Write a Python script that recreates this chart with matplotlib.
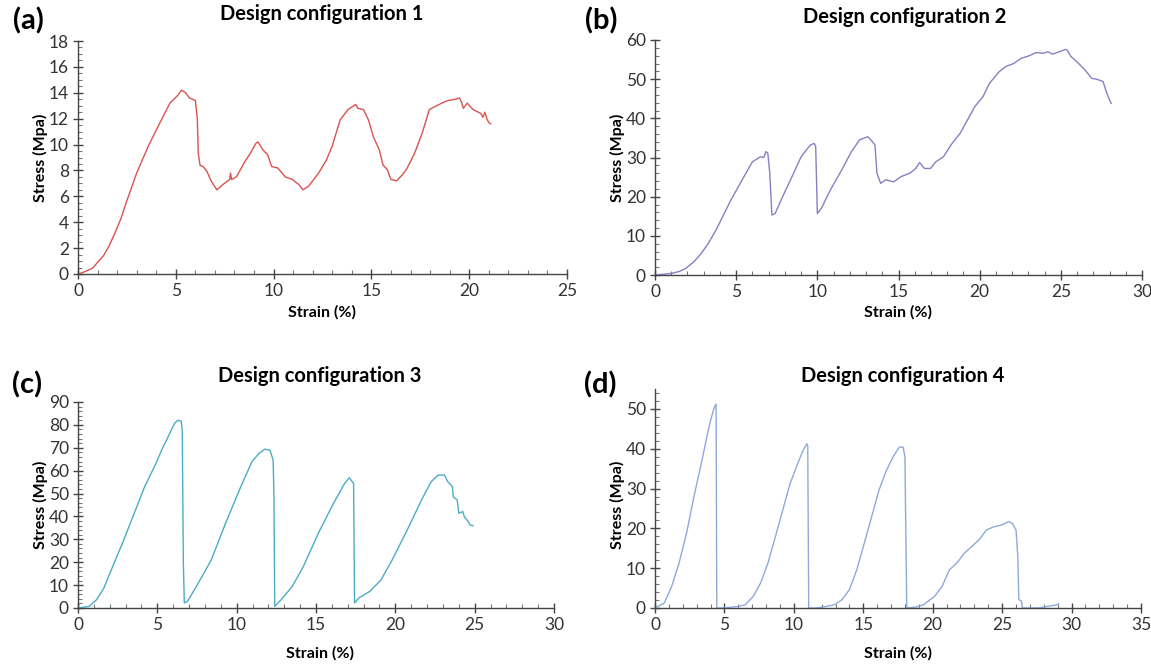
import numpy as np
import matplotlib
matplotlib.use("Agg")
import matplotlib.pyplot as plt
from matplotlib.ticker import MultipleLocator

plt.rcParams['font.family'] = ['Lato', 'DejaVu Sans']

# config 1 (strain %, stress MPa)
strain_1 = [0, 0.3, 0.75, 1.0, 1.3, 1.6, 1.9, 2.2, 2.46, 3.0, 3.6, 4.16, 4.7, 5.1, 5.29, 5.4, 5.5, 5.7, 6.0, 6.1, 6.15,
            6.24, 6.4, 6.6, 6.8, 7.1, 7.4, 7.75, 7.8, 7.85, 8.1, 8.5, 8.8, 9.1, 9.2, 9.45, 9.7, 9.9,
            10.2, 10.6, 10.96, 11.3, 11.5, 11.8, 12.3, 12.7, 13.0, 13.4, 13.8, 14.2, 14.3, 14.6,
            14.85, 15.1, 15.4, 15.6, 15.8, 16.0, 16.3, 16.6, 16.8, 17.2, 17.6, 17.96, 18.2, 18.6,
            18.9, 19.3, 19.5, 19.6, 19.7, 19.9, 20.2, 20.6, 20.7, 20.8, 20.9, 21.0, 21.1]
stress_1 = [0, 0.15, 0.45, 0.9, 1.4, 2.2, 3.2, 4.3, 5.5, 7.8, 9.9, 11.6, 13.2, 13.8, 14.2, 14.1, 14.0, 13.6, 13.4, 12.0, 9.3,
            8.4, 8.3, 7.9, 7.2, 6.5, 6.9, 7.3, 7.8, 7.3, 7.5, 8.6, 9.3, 10.1, 10.2, 9.6, 9.2, 8.3,
            8.2, 7.5, 7.3, 6.9, 6.5, 6.8, 7.8, 8.8, 9.9, 11.9, 12.7, 13.1, 12.8, 12.7,
            11.9, 10.6, 9.6, 8.4, 8.1, 7.3, 7.2, 7.7, 8.1, 9.3, 10.9, 12.7, 12.9, 13.2,
            13.4, 13.5, 13.6, 13.3, 12.8, 13.2, 12.7, 12.4, 12.1, 12.5, 12.0, 11.7, 11.6]

# config 2
strain_2 = [0, 1.0, 1.5, 1.9, 2.4, 2.85, 3.3, 3.76, 4.67, 5.6, 6.0, 6.5, 6.7, 6.83, 6.95, 7.07, 7.2, 7.4, 7.86,
            8.54, 9.0, 9.57, 9.8, 9.9, 10.0, 10.25, 10.8, 11.5, 12.1, 12.6, 13.1, 13.3, 13.55,
            13.67, 13.9, 14.2, 14.7, 15.15, 15.7, 16.06, 16.3, 16.6, 16.97, 17.3, 17.77, 18.3,
            18.8, 19.25, 19.7, 20.2, 20.6, 21.2, 21.6, 22.1, 22.55, 23.0, 23.5, 23.9, 24.2, 24.5,
            24.9, 25.3, 25.4, 25.6, 26.1, 26.5, 26.9, 27.2, 27.6, 27.8, 28.0, 28.1]
stress_2 = [0, 0.4, 0.9, 1.7, 3.4, 5.5, 8.2, 11.5, 19.1, 26.0, 28.9, 30.2, 30.0, 31.5, 31.1, 26.0, 15.3, 15.7, 20.0,
            26.0, 30.2, 33.2, 33.6, 32.8, 15.7, 17.0, 21.7, 26.8, 31.5, 34.5, 35.3, 34.5, 33.2,
            26.0, 23.4, 24.3, 23.8, 25.1, 26.0, 27.2, 28.7, 27.2, 27.2, 28.9, 30.2, 33.6,
            36.2, 39.6, 43.0, 45.5, 48.9, 51.9, 53.2, 54.0, 55.3, 55.9, 56.8, 56.6, 57.0, 56.4,
            57.0, 57.6, 57.4, 55.9, 54.0, 52.3, 50.2, 50.0, 49.4, 46.8, 44.7, 43.8]

# config 3
strain_3 = [0, 0.7, 1.17, 1.63, 2.1, 2.8, 3.5, 4.2, 4.9, 5.36, 5.6, 5.9, 6.1, 6.3, 6.5, 6.57, 6.64, 6.7,
            6.9, 7.46, 8.4, 9.3, 10.26, 10.96, 11.4, 11.77, 12.1, 12.3, 12.35, 12.4, 12.8, 13.5,
            14.2, 15.15, 16.1, 16.8, 17.1, 17.37, 17.43, 17.7, 18.4, 19.1, 19.8, 20.75, 21.7,
            22.26, 22.7, 23.1, 23.3, 23.6, 23.65, 23.9, 24.0, 24.25, 24.35, 24.6, 24.7, 24.9]
stress_3 = [0, 0.7, 3.6, 8.7, 16.7, 28.3, 40.6, 53.0, 63.0, 70.4, 73.6, 78.1, 80.8, 82.0, 81.7, 77.6, 19.6, 2.2,
            2.9, 9.4, 21.0, 37.0, 53.0, 63.9, 67.5, 69.4, 68.9, 64.6, 48.6, 0.7, 3.6, 9.4,
            18.1, 32.7, 45.7, 54.4, 56.9, 54.4, 2.2, 4.4, 7.3, 12.3, 21.0, 34.1, 47.9,
            55.2, 58.1, 58.1, 55.2, 53.0, 48.6, 47.2, 41.4, 42.1, 39.9, 37.7, 36.3, 35.9]

# config 4
strain_4 = [0, 0.67, 1.2, 1.73, 2.27, 2.8, 3.33, 3.73, 4.0, 4.27, 4.4, 4.45, 4.93, 6.0, 6.5, 7.07,
            7.6, 8.13, 8.67, 9.2, 9.73, 10.27, 10.67, 10.93, 11.0, 11.07, 11.6, 12.1, 12.93, 13.47,
            14.0, 14.53, 15.07, 15.6, 16.13, 16.67, 17.2, 17.6, 17.87, 18.0, 18.13, 18.8, 19.33,
            20.13, 20.67, 21.2, 21.73, 22.27, 22.8, 23.33, 23.87, 24.4, 24.93, 25.47, 25.73, 26.0,
            26.13, 26.2, 26.4, 26.45, 27.6, 28.93, 29.07]
stress_4 = [0, 1.25, 5.4, 11.25, 18.75, 27.9, 36.25, 42.9, 47.1, 50.4, 51.25, 0, 0, 0.4, 0.8, 2.9,
            6.25, 11.25, 17.9, 24.6, 31.25, 36.25, 39.6, 41.25, 40.8, 0, 0, 0.25, 0.8, 2.1,
            4.6, 9.6, 16.25, 22.9, 29.6, 34.6, 38.3, 40.4, 40.4, 37.9, 0, 0.25, 0.8,
            2.9, 5.4, 9.6, 11.25, 13.75, 15.4, 17.1, 19.6, 20.4, 20.8, 21.7, 21.25, 19.6,
            12.9, 2.1, 1.7, 0, 0, 0.8, 1.1]

W, H = 1151, 664
fig = plt.figure(figsize=(W / 100, H / 100), dpi=100)

def box(x0, x1, y_top, y_bot):
    return [x0 / W, 1 - y_bot / H, (x1 - x0) / W, (y_bot - y_top) / H]

panels = [
    dict(x=strain_1, y=stress_1, col='#d9534f', rect=box(78, 567, 41, 274), xlim=25, ylim=18,
         ystep=2, yminor=0.5, title='Design configuration 1', tag='(a)',
         tpos=(322, 14), tagpos=(28, 21), ylpos=(40, 158), xlpos=(322, 312)),
    dict(x=strain_2, y=stress_2, col='#8e7cc3', rect=box(655, 1142, 40, 275), xlim=30, ylim=60,
         ystep=10, yminor=2, title='Design configuration 2', tag='(b)',
         tpos=(905, 17), tagpos=(601, 21), ylpos=(617, 158), xlpos=(898, 312)),
    dict(x=strain_3, y=stress_3, col='#4bacc6', rect=box(78, 554, 402, 608), xlim=30, ylim=90,
         ystep=10, yminor=2, title='Design configuration 3', tag='(c)',
         tpos=(320, 376), tagpos=(27, 385), ylpos=(40, 505), xlpos=(320, 653)),
    dict(x=strain_4, y=stress_4, col='#8eaadb', rect=box(655, 1141, 389, 608), xlim=35, ylim=55,
         ystep=10, yminor=2, title='Design configuration 4', tag='(d)',
         tpos=(903, 376), tagpos=(600, 385), ylpos=(617, 505), xlpos=(898, 653)),
]

for p in panels:
    ax = fig.add_axes(p['rect'])
    ax.plot(p['x'], p['y'], color=p['col'], lw=1.0)
    ax.set_xlim(0, p['xlim'])
    ax.set_ylim(0, p['ylim'])
    ax.xaxis.set_major_locator(MultipleLocator(5))
    ax.xaxis.set_minor_locator(MultipleLocator(1))
    ax.yaxis.set_major_locator(MultipleLocator(p['ystep']))
    ax.yaxis.set_minor_locator(MultipleLocator(p['yminor']))
    if p['ylim'] == 55:
        ax.set_yticks([0, 10, 20, 30, 40, 50])
    for s in ['top', 'right']:
        ax.spines[s].set_visible(False)
    for s in ['left', 'bottom']:
        ax.spines[s].set_color('#444444')
        ax.spines[s].set_linewidth(1.0)
    ax.tick_params(which='major', direction='inout', length=7, width=1, color='#444444',
                   labelsize=12.5, labelcolor='#333333', pad=3)
    ax.tick_params(which='minor', direction='in', length=3, width=0.8, color='#777777')
    fig.text(p['tpos'][0] / W, 1 - p['tpos'][1] / H, p['title'], ha='center', va='center',
             fontsize=14.5, fontweight='bold')
    fig.text(p['tagpos'][0] / W, 1 - p['tagpos'][1] / H, p['tag'], ha='center', va='center',
             fontsize=21, fontweight='bold')
    fig.text(p['ylpos'][0] / W, 1 - p['ylpos'][1] / H, 'Stress (Mpa)', ha='center', va='center',
             rotation=90, fontsize=11.5, fontweight='bold')
    fig.text(p['xlpos'][0] / W, 1 - p['xlpos'][1] / H, 'Strain (%)', ha='center', va='center',
             fontsize=11.5, fontweight='bold')

fig.savefig('out.png', dpi=100)
